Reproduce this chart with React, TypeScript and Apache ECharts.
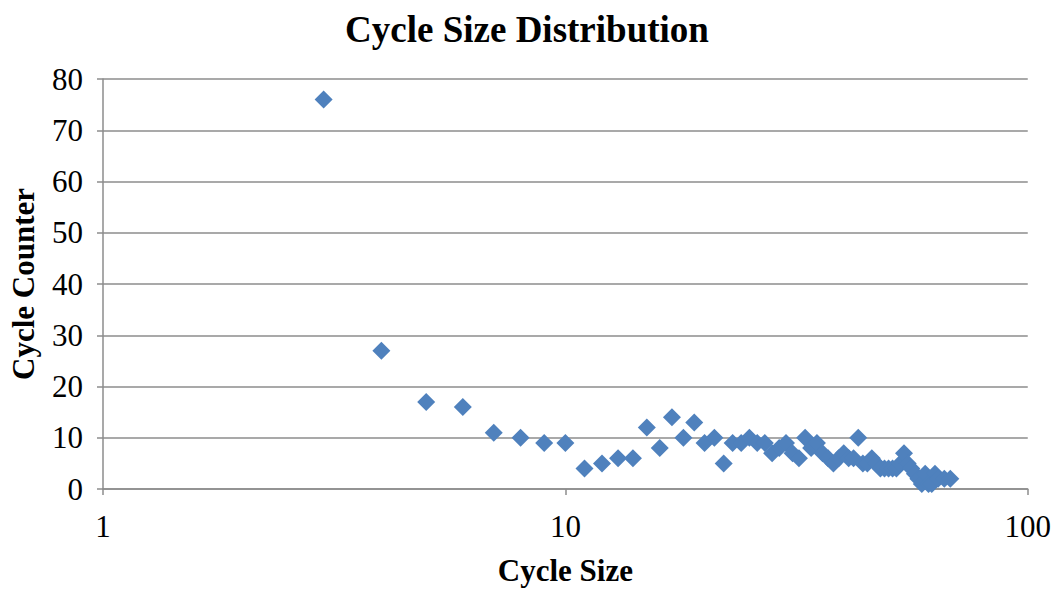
import React, { useEffect, useRef } from "react";
import * as echarts from "echarts";

const cycleSizes = [3, 4, 5, 6, 7, 8, 9, 10, 11, 12, 13, 14, 15, 16, 17, 18, 19, 20, 21, 22, 23, 24, 25, 26, 27, 28, 29, 30, 31, 32, 33, 34, 35, 36, 37, 38, 39, 40, 41, 42, 43, 44, 45, 46, 47, 48, 49, 50, 51, 52, 53, 54, 55, 56, 57, 58, 59, 60, 61, 62, 63, 64, 66, 68];
const cycleCounts = [76, 27, 17, 16, 11, 10, 9, 9, 4, 5, 6, 6, 12, 8, 14, 10, 13, 9, 10, 5, 9, 9, 10, 9, 9, 7, 8, 9, 7, 6, 10, 8, 9, 7, 6, 5, 6, 7, 6, 6, 10, 5, 5, 6, 5, 4, 4, 4, 4, 4, 5, 7, 5, 4, 3, 2, 1, 3, 1, 1, 3, 2, 2, 2];
const yTicks = [0, 10, 20, 30, 40, 50, 60, 70, 80];

const FONT = "'Liberation Serif', 'Times New Roman', serif";

export default function App() {
  const ref = useRef<HTMLDivElement>(null);
  useEffect(() => {
    if (!ref.current) return;
    const chart = echarts.init(ref.current, null, { renderer: "svg" });
    const data = cycleSizes.map((s, i) => [s, cycleCounts[i]]);
    chart.setOption({
      animation: false,
      backgroundColor: "#ffffff",
      title: {
        text: "Cycle Size Distribution",
        left: "center",
        top: 6,
        textStyle: { fontFamily: FONT, fontSize: 37, fontWeight: "bold", color: "#000" },
      },
      grid: { left: 103, right: 25, top: 79, bottom: 97, containLabel: false },
      xAxis: {
        type: "log",
        logBase: 10,
        min: 1,
        max: 100,
        name: "Cycle Size",
        nameLocation: "middle",
        nameGap: 66,
        nameTextStyle: { fontFamily: FONT, fontSize: 31, fontWeight: "bold", color: "#000" },
        axisLine: { show: true, lineStyle: { color: "#8c8c8c", width: 1.5 } },
        axisTick: { show: true, inside: false, length: 6, lineStyle: { color: "#8c8c8c", width: 1.5 } },
        minorTick: { show: false },
        splitLine: { show: false },
        axisLabel: { fontFamily: FONT, fontSize: 31, color: "#000", margin: 22 },
      },
      yAxis: {
        type: "value",
        min: yTicks[0],
        max: yTicks[yTicks.length - 1],
        interval: 10,
        name: "Cycle Counter",
        nameLocation: "middle",
        nameGap: 64,
        nameRotate: 90,
        nameTextStyle: { fontFamily: FONT, fontSize: 31, fontWeight: "bold", color: "#000" },
        axisLine: { show: true, lineStyle: { color: "#8c8c8c", width: 1.5 } },
        axisTick: { show: true, inside: false, length: 6, lineStyle: { color: "#8c8c8c", width: 1.5 } },
        splitLine: { show: true, lineStyle: { color: "#8c8c8c", width: 1.5 } },
        axisLabel: { fontFamily: FONT, fontSize: 31, color: "#000", margin: 20 },
      },
      series: [
        {
          type: "scatter",
          data,
          symbol: "diamond",
          symbolSize: 18,
          itemStyle: { color: "#4F81BD", opacity: 1 },
        },
      ],
    });
    return () => chart.dispose();
  }, []);
  return (
    <div
      ref={ref}
      style={{ position: "fixed", left: 0, top: 0, width: 1054, height: 591 }}
    />
  );
}
